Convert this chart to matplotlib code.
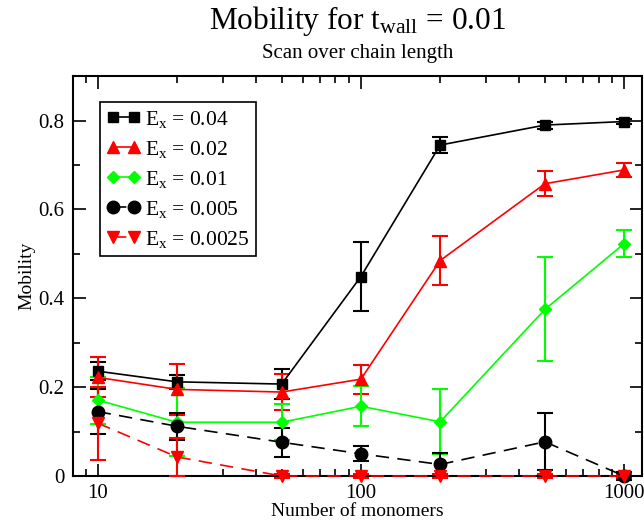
import numpy as np
import matplotlib
matplotlib.use("Agg")
import matplotlib.pyplot as plt
from matplotlib.ticker import FixedLocator, NullFormatter

plt.rcParams['font.family'] = 'Liberation Serif'
plt.rcParams['mathtext.fontset'] = 'custom'
plt.rcParams['mathtext.rm'] = 'Liberation Serif'
plt.rcParams['mathtext.it'] = 'Liberation Serif'

n_monomers = [10, 20, 50, 100, 200, 500, 1000]

mob_004 = [0.236, 0.212, 0.207, 0.449, 0.745, 0.790, 0.798]
err_004 = [0.020, 0.016, 0.033, 0.078, 0.018, 0.008, 0.005]

mob_002 = [0.222, 0.195, 0.189, 0.218, 0.485, 0.658, 0.689]
err_002 = [0.045, 0.058, 0.040, 0.033, 0.056, 0.028, 0.015]

mob_001 = [0.171, 0.121, 0.121, 0.157, 0.122, 0.375, 0.523]
err_001 = [0.053, 0.077, 0.041, 0.045, 0.073, 0.117, 0.031]

mob_0005 = [0.145, 0.112, 0.076, 0.050, 0.026, 0.077, 0.0]
err_0005 = [0.050, 0.030, 0.033, 0.017, 0.025, 0.064, 0.010]

mob_00025 = [0.119, 0.043, 0.0, 0.0, 0.0, 0.0, 0.0]
err_00025 = [0.082, 0.043, 0.004, 0.004, 0.004, 0.004, 0.004]

labels = [r'E$_{\rm x}$ = 0.04', r'E$_{\rm x}$ = 0.02', r'E$_{\rm x}$ = 0.01',
          r'E$_{\rm x}$ = 0.005', r'E$_{\rm x}$ = 0.0025']

y_ticks = [0, 0.2, 0.4, 0.6, 0.8]
y_ticklabels = ['0', '0.2', '0.4', '0.6', '0.8']

fig = plt.figure(figsize=(6.44, 5.22), dpi=100)
ax = fig.add_axes([0.1134, 0.0881, 0.8836, 0.7659])

series = [
    (mob_004, err_004, 'black', 's', '-', 7),
    (mob_002, err_002, 'red', '^', '-', 8),
    (mob_001, err_001, '#00ff00', 'D', '-', 6),
    (mob_0005, err_0005, 'black', 'o', (0, (8, 5)), 9),
    (mob_00025, err_00025, 'red', 'v', (0, (8, 5)), 8),
]

handles = []
for (y, e, c, m, ls, ms), lab in zip(series, labels):
    h = ax.errorbar(n_monomers, y, yerr=e, color=c, marker=m, markersize=ms,
                    linestyle=ls, linewidth=1.2, elinewidth=1.5, capsize=6,
                    capthick=1.5, label=lab, clip_on=False, zorder=3)
    handles.append(h)

ax.set_xscale('log')
ax.set_xlim(8.06, 1170)
ax.set_ylim(0, 0.9)
ax.set_yticks(y_ticks)
ax.set_yticklabels(y_ticklabels)
ax.yaxis.set_minor_locator(FixedLocator([0.1, 0.3, 0.5, 0.7]))
ax.set_xticks([10, 100, 1000])
ax.set_xticklabels(['10', '100', '1000'])
ax.xaxis.set_minor_locator(FixedLocator([9] + [k * d for d in (10, 100) for k in range(2, 10)]))
ax.xaxis.set_minor_formatter(NullFormatter())

ax.tick_params(which='both', direction='in', top=True, right=True, width=1.2)
ax.tick_params(which='major', length=9, labelsize=15, pad=6)
ax.tick_params(which='minor', length=5)
for s in ax.spines.values():
    s.set_linewidth(1.5)

ax.set_xlabel('Number of monomers', fontsize=14, labelpad=0)
ax.set_ylabel('Mobility', fontsize=14, labelpad=2)

leg = ax.legend(handles=[h[0] for h in handles], labels=labels, loc='upper left',
                bbox_to_anchor=(0.047, 0.935), borderaxespad=0, fontsize=15.5,
                numpoints=2, handlelength=1.6, handletextpad=0.2, labelspacing=0.42,
                borderpad=0.3, fancybox=False, framealpha=1, edgecolor='black')
leg.get_frame().set_linewidth(1.2)

fig.text(0.555, 0.96, r'Mobility for t$_{\rm wall}$ = 0.01', ha='center', va='center', fontsize=22.5)
fig.text(0.555, 0.898, 'Scan over chain length', ha='center', va='center', fontsize=15)

fig.savefig('out.png', dpi=100)
